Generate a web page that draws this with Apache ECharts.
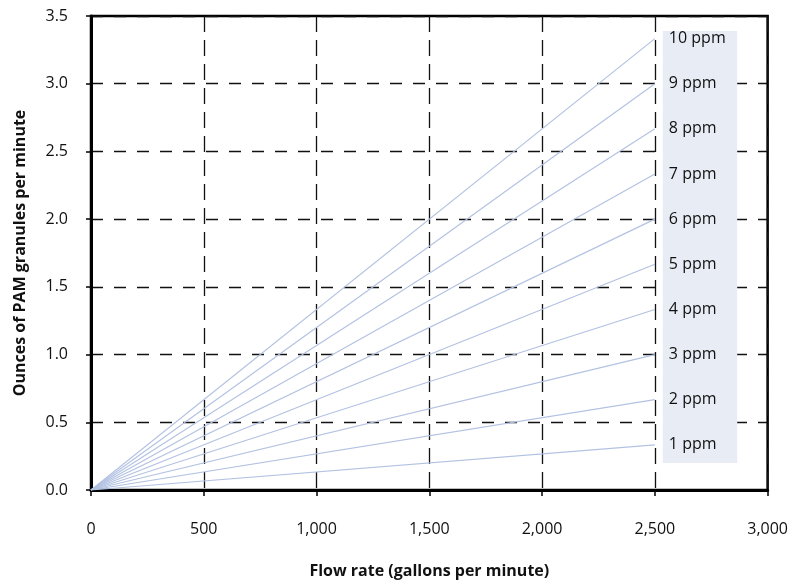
<!DOCTYPE html>
<html>
<head>
<meta charset="utf-8">
<script src="https://cdn.jsdelivr.net/npm/echarts@6/dist/echarts.min.js"></script>
<style>html,body{margin:0;padding:0;background:#fff;}#c{width:791px;height:584px;}</style>
</head>
<body>
<div id="c"></div>
<script>
// Flow rate endpoints (gallons per minute)
const flowRates = [0, 2500];
// Series names
const seriesNames = ['1 ppm','2 ppm','3 ppm','4 ppm','5 ppm','6 ppm','7 ppm','8 ppm','9 ppm','10 ppm'];
// Ounces of PAM granules per minute at each flow rate endpoint
const ppm1  = [0, 0.333];
const ppm2  = [0, 0.667];
const ppm3  = [0, 1.0];
const ppm4  = [0, 1.333];
const ppm5  = [0, 1.667];
const ppm6  = [0, 2.0];
const ppm7  = [0, 2.333];
const ppm8  = [0, 2.667];
const ppm9  = [0, 3.0];
const ppm10 = [0, 3.333];
const allValues = [ppm1, ppm2, ppm3, ppm4, ppm5, ppm6, ppm7, ppm8, ppm9, ppm10];

const FONT = 'Open Sans';
const chart = echarts.init(document.getElementById('c'));

const series = allValues.map((vals, i) => {
  const s = {
    name: seriesNames[i],
    type: 'line',
    symbol: 'none',
    silent: true,
    data: flowRates.map((x, j) => [x, vals[j]]),
    lineStyle: { color: '#b3c2e2', width: 1.2 },
    endLabel: {
      show: true,
      formatter: '{a}',
      distance: 14,
      color: '#111',
      fontFamily: FONT,
      fontSize: 16
    },
    z: 3
  };
  if (i === 0) {
    s.markArea = {
      silent: true,
      itemStyle: { color: '#e8ecf5' },
      data: [[{ coord: [2535, 3.39] }, { coord: [2865, 0.2] }]]
    };
  }
  return s;
});

chart.setOption({
  animation: false,
  grid: {
    left: 91, right: 19, top: 16, bottom: 90,
    show: true, borderColor: '#000', borderWidth: 2.5, backgroundColor: 'transparent'
  },
  xAxis: {
    type: 'value',
    min: 0, max: 3000, interval: 500,
    name: 'Flow rate (gallons per minute)',
    nameLocation: 'middle',
    nameGap: 73,
    nameTextStyle: { fontFamily: FONT, fontSize: 16, fontWeight: 'bold', color: '#111' },
    axisLine: { show: true, onZero: false, lineStyle: { color: '#000', width: 3 } },
    axisTick: { show: true, length: 6, lineStyle: { color: '#000', width: 1.5 } },
    axisLabel: {
      margin: 31, fontFamily: FONT, fontSize: 16, color: '#111',
      formatter: v => v.toLocaleString('en-US')
    },
    splitLine: { show: true, lineStyle: { color: '#111', width: 1.3, type: [16, 8] } }
  },
  yAxis: {
    type: 'value',
    min: 0, max: 3.5, interval: 0.5,
    name: 'Ounces of PAM granules per minute',
    nameLocation: 'middle',
    nameGap: 63,
    nameTextStyle: { fontFamily: FONT, fontSize: 16, fontWeight: 'bold', color: '#111' },
    axisLine: { show: true, onZero: false, lineStyle: { color: '#000', width: 3 } },
    axisTick: { show: true, length: 5, lineStyle: { color: '#000', width: 1.5 } },
    axisLabel: {
      margin: 23, fontFamily: FONT, fontSize: 16, color: '#111',
      formatter: v => v.toFixed(1)
    },
    splitLine: { show: true, lineStyle: { color: '#111', width: 1.3, type: [12, 11] } }
  },
  series: series
});
</script>
</body>
</html>
